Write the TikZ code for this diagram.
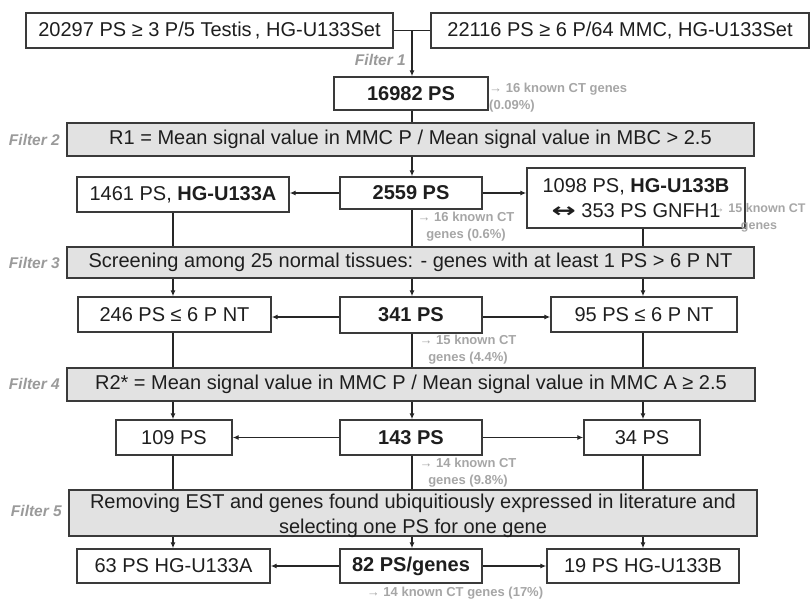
\documentclass[tikz,border=0pt]{standalone}
\usepackage{fontspec}
\usepackage{graphicx}
\setmainfont{Liberation Sans}
\newfontfamily\dejavufont{DejaVu Sans}
\usetikzlibrary{arrows.meta}
\definecolor{boxc}{HTML}{3A3A3A}
\definecolor{linec}{HTML}{262626}
\definecolor{txtc}{HTML}{1E1E1E}
\definecolor{filc}{HTML}{E2E2E2}
\definecolor{annc}{HTML}{A6A6A6}
\definecolor{flc}{HTML}{9A9A9A}
\begin{document}
\begin{tikzpicture}[x=1pt,y=-1pt,
  box/.style={draw=boxc, line width=1.4pt, fill=white, inner sep=0pt, text=txtc, align=center, font=\fontsize{20}{24.5}\selectfont},
  fbox/.style={box, fill=filc},
  conn/.style={draw=linec, line width=1.8pt},
  arr/.style={conn, -{Latex[length=6pt,width=5pt]}},
  ann/.style={text=annc, inner sep=0pt, align=center, font=\bfseries\fontsize{13}{17}\selectfont},
  flab/.style={text=flc, inner sep=0pt, font=\bfseries\itshape\fontsize{15.5}{18}\selectfont}]
\useasboundingbox (0,0) rectangle (811,602);
\coordinate (colL) at (173,0);
\coordinate (colC) at (412,0);
\coordinate (colR) at (643,0);
% row 0
\node[box, minimum width=367pt, minimum height=35pt] (tl) at (209.5,30.5) {20297 PS ≥ 3 P/5 Testis\,, HG-U133Set};
\node[box, minimum width=378pt, minimum height=35pt] (tr) at (620,30.5) {22116 PS ≥ 6 P/64 MMC, HG-U133Set};
\node[box, minimum width=154pt, minimum height=33pt] (b16982) at (411,93.5) {\bfseries 16982 PS};
\node[fbox, minimum width=687pt, minimum height=33pt] (f2) at (410.5,139.5) {R1 = Mean signal value in MMC P / Mean signal value in MBC > 2.5};
% row 1
\node[box, minimum width=142pt, minimum height=32pt] (b2559) at (411,193) {\bfseries 2559 PS};
\node[box, minimum width=212pt, minimum height=35pt] (b1461) at (183,194.5) {1461 PS, \textbf{HG-U133A}};
\node[box, minimum width=218pt, minimum height=60pt] (b1098) at (636,198) {1098 PS, \textbf{HG-U133B}\\\scalebox{1.45}[1]{\dejavufont\bfseries ↔} 353 PS GNFH1};
\node[fbox, minimum width=687pt, minimum height=31pt] (f3) at (410.5,262.5) {Screening among 25 normal tissues: - genes with at least 1 PS > 6 P NT};
% row 2
\node[box, minimum width=193pt, minimum height=35pt] (b246) at (174.5,314.5) {246 PS ≤ 6 P NT};
\node[box, minimum width=142pt, minimum height=36pt] (b341) at (411,315) {\bfseries 341 PS};
\node[box, minimum width=186pt, minimum height=35pt] (b95) at (644,314.5) {95 PS ≤ 6 P NT};
\node[fbox, minimum width=688pt, minimum height=33pt] (f4) at (411,384.5) {R2* = Mean signal value in MMC P / Mean signal value in MMC A ≥ 2.5};
% row 3
\node[box, minimum width=116pt, minimum height=35pt] (b109) at (174,437.5) {109 PS};
\node[box, minimum width=142pt, minimum height=35pt] (b143) at (411,437.5) {\bfseries 143 PS};
\node[box, minimum width=116pt, minimum height=35pt] (b34) at (642,437.5) {34 PS};
\node[fbox, minimum width=688pt, minimum height=46pt] (f5) at (413,513) {};
\node[text=txtc, align=center, inner sep=0pt, font=\fontsize{20}{24.5}\selectfont] (f5t) at (413,516) {Removing EST and genes found ubiquitiously expressed in literature and\\selecting one PS for one gene};
% row 4
\node[box, minimum width=193pt, minimum height=34pt] (b63) at (173.5,566) {63 PS HG-U133A};
\node[box, minimum width=142pt, minimum height=34pt] (b82) at (411,566) {\bfseries 82 PS/genes};
\node[box, minimum width=192pt, minimum height=34pt] (b19) at (643,566) {19 PS HG-U133B};
% filter labels
\node[flab, anchor=east] (fl1) at (406,60) {Filter 1};
\node[flab, anchor=east] (fl2) at (60,140) {Filter 2};
\node[flab, anchor=east] (fl3) at (60,263) {Filter 3};
\node[flab, anchor=east] (fl4) at (60,384) {Filter 4};
\node[flab, anchor=east] (fl5) at (62,511) {Filter 5};
% annotations
\node[ann, anchor=north west, align=left] (a1) at (489,83) {→ 16 known CT genes\\(0.09\%)};
\node[ann] (a2) at (466,226.5) {→ 16 known CT\\genes (0.6\%)};
\node[ann, font=\bfseries\fontsize{12.5}{17}\selectfont] (a3) at (759,218) {→ 15 known CT\\genes};
\node[ann] (a4) at (468,350) {→ 15 known CT\\genes (4.4\%)};
\node[ann] (a5) at (468,472.5) {→ 14 known CT\\genes (9.8\%)};
\node[ann] (a6) at (455,593) {→ 14 known CT genes (17\%)};
% connectors
\draw[conn] (tl.east) -- (tr.west |- tl.east);
\draw[arr] (tl.east -| colC) -- (b16982.north -| colC);
\draw[conn] (b16982.south -| colC) -- (f2.north -| colC);
\draw[arr] (f2.south -| colC) -- (b2559.north -| colC);
\draw[arr] (b2559.west) -- (b2559.west -| b1461.east);
\draw[arr] (b2559.east) -- (b2559.east -| b1098.west);
\draw[conn] (b1461.south -| colL) -- (f3.north -| colL);
\draw[conn] (b2559.south -| colC) -- (f3.north -| colC);
\draw[conn] (b1098.south -| colR) -- (f3.north -| colR);
\draw[arr] (f3.south -| colL) -- (b246.north -| colL);
\draw[arr] (f3.south -| colC) -- (b341.north -| colC);
\draw[arr] (f3.south -| colR) -- (b95.north -| colR);
\draw[arr] (b341.west |- 0,317) -- (b246.east |- 0,317);
\draw[arr] (b341.east |- 0,317) -- (b95.west |- 0,317);
\draw[conn] (b246.south -| colL) -- (f4.north -| colL);
\draw[conn] (b341.south -| colC) -- (f4.north -| colC);
\draw[conn] (b95.south -| colR) -- (f4.north -| colR);
\draw[arr] (f4.south -| colL) -- (b109.north -| colL);
\draw[arr] (f4.south -| colC) -- (b143.north -| colC);
\draw[arr] (f4.south -| colR) -- (b34.north -| colR);
\draw[arr] (b143.west) -- (b143.west -| b109.east);
\draw[arr] (b143.east) -- (b143.east -| b34.west);
\draw[conn] (b109.south -| colL) -- (f5.north -| colL);
\draw[conn] (b143.south -| colC) -- (f5.north -| colC);
\draw[conn] (b34.south -| colR) -- (f5.north -| colR);
\draw[arr] (f5.south -| colL) -- (b63.north -| colL);
\draw[arr] (f5.south -| colC) -- (b82.north -| colC);
\draw[arr] (f5.south -| colR) -- (b19.north -| colR);
\draw[arr] (b82.west) -- (b82.west -| b63.east);
\draw[arr] (b82.east) -- (b82.east -| b19.west);
\end{tikzpicture}
\end{document}
